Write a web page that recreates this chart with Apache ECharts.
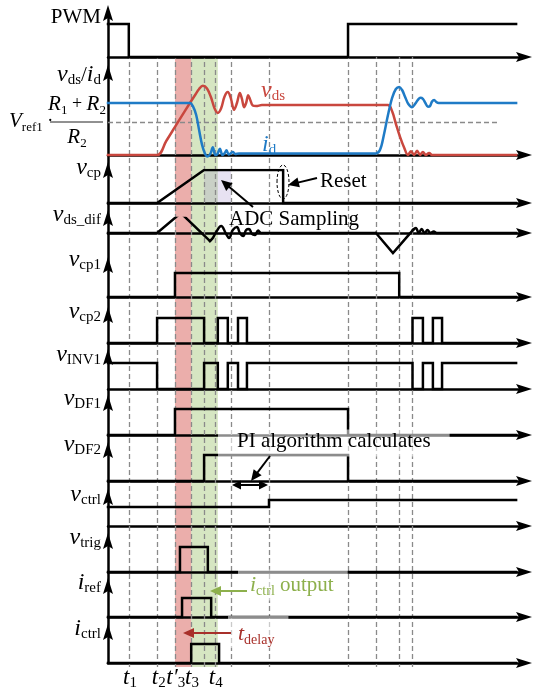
<!DOCTYPE html>
<html><head><meta charset="utf-8">
<script src="https://cdn.jsdelivr.net/npm/echarts@6/dist/echarts.min.js"></script>
<style>html,body{margin:0;padding:0;background:#fff}#c{width:536px;height:688px}</style>
</head><body><div id="c"></div>
<script>
// ---------------- data (time in arbitrary units 0..100) ----------------
const timeMarks = [5.0, 11.8, 16.1, 20.0, 23.1, 25.7, 29.6, 38.7, 57.7, 64.4, 70.0, 73.2];
const timeLabelText = ['{v|t}{s|1}', '{v|t}{s|2}', '{v|t\u2032}{s|3}', '{v|t}{s|3}', '{v|t}{s|4}'];
const timeLabelAt = [5.3, 12.2, 16.3, 20.2, 25.9];
const redBand = [16.1, 20.0];
const greenBand = [20.0, 26.4];
const purpleBand = [23.1, 29.6];
const vthreshold = 0.63;

const pwm = [[0,1],[5.0,1],[5.0,0],[57.7,0],[57.7,1],[98.1,1]];
const vds = [[0,0],[11.8,0],[14.0,0.27],[16.1,0.54],[18.5,0.85],[20.9,1.15],[21.9,1.27],[22.8,1.33],[23.8,1.28],[24.8,1.1],[25.6,0.9],[26.4,0.81],[27.2,0.9],[28.0,1.12],[28.8,1.21],[29.5,1.1],[30.3,0.87],[31.0,1.0],[31.7,1.19],[32.2,1.08],[32.7,0.92],[33.2,1.0],[33.7,1.15],[34.2,1.06],[34.8,0.95],[35.6,0.94],[37.0,0.96],[67.3,0.96],[68.3,0.84],[69.2,0.6],[70.2,0.35],[71.2,0.14],[72.1,0.0],[72.8,0.07],[73.6,0.0],[74.3,0.08],[75.0,0.0],[75.7,0.06],[76.4,0.0],[77.2,0.04],[77.9,0],[98.1,0]];
const id = [[0,1],[19.7,1],[20.4,0.94],[21.2,0.77],[21.9,0.48],[22.6,0.2],[23.3,0.03],[23.9,-0.03],[24.6,0.02],[25.2,0.15],[25.8,0.0],[26.3,0.02],[26.9,0.12],[27.5,0.0],[28.0,0.03],[28.5,0.09],[29.0,0.01],[29.5,0.03],[30.0,0.06],[30.6,0.02],[31.5,0.03],[64.4,0.03],[65.4,0.1],[66.3,0.38],[67.3,0.77],[68.3,1.1],[69.2,1.27],[70.0,1.31],[70.7,1.25],[71.4,1.12],[72.2,0.98],[73.1,0.92],[73.8,0.98],[74.5,1.06],[75.1,1.1],[75.7,1.08],[76.3,1.0],[76.9,0.93],[77.4,0.94],[77.9,1.03],[78.4,1.06],[78.9,1.02],[79.5,1.0],[98.1,1.0]];
const vcp = [[0,0],[11.8,0],[23.1,1],[42.1,1],[42.1,0],[98.1,0]];
const vdsDifA = [[0,0],[11.8,0],[17.5,1.0],[24.5,-0.4]];
const vdsDifB = [[24.5,-0.4],[25.2,-0.25],[26.0,0.05],[27.2,0.35],[28.4,-0.05],[29.1,-0.25],[30.0,0.15],[31.0,0.3],[31.7,0],[32.5,-0.15],[33.2,0.15],[33.9,0.2],[34.6,-0.05],[35.3,-0.1],[36.1,0.12],[36.8,0],[38.0,0],[64.4,0]];
const vdsDifC = [[64.4,0],[68.5,-1.0],[73.3,0.15]];
const vdsDifD = [[73.3,0.15],[74.0,0.25],[74.7,0.0],[75.4,0.2],[76.1,0],[76.8,0.15],[77.5,0],[78.3,0.07],[79.0,0],[80.0,0],[98.1,0]];
const vcp1 = [[0,0],[16.1,0],[16.1,1],[70.0,1],[70.0,0],[98.1,0]];
const vcp2 = [[0,0],[11.8,0],[11.8,1],[23.1,1],[23.1,0],[26.4,0],[26.4,1],[28.8,1],[28.8,0],[31.25,0],[31.25,1],[33.4,1],[33.4,0],[73.2,0],[73.2,1],[75.7,1],[75.7,0],[78.1,0],[78.1,1],[80.3,1],[80.3,0],[98.1,0]];
const vinv1 = [[0,1],[11.8,1],[11.8,0],[23.1,0],[23.1,1],[26.4,1],[26.4,0],[28.8,0],[28.8,1],[31.25,1],[31.25,0],[33.4,0],[33.4,1],[73.2,1],[73.2,0],[75.7,0],[75.7,1],[78.1,1],[78.1,0],[80.3,0],[80.3,1],[98.1,1]];
const vdf1 = [[0,0],[16.1,0],[16.1,1],[57.7,1],[57.7,0],[98.1,0]];
const vdf2 = [[0,0],[23.1,0],[23.1,1],[57.7,1],[57.7,0],[98.1,0]];
const vctrl = [[0,1],[38.7,1],[38.7,1.37],[98.1,1.37]];
const vtrig = [[0,0],[17.3,0],[17.3,1],[24.0,1],[24.0,0],[98.1,0]];
const iref = [[0,0],[17.8,0],[17.8,1],[24.8,1],[24.8,0],[98.1,0]];
const ictrl = [[0,0],[20.0,0],[20.0,1],[26.7,1],[26.7,0],[98.1,0]];

// ---------------- layout (pixels) ----------------
const rows = [
  {tip:5,   base:57,  hi:24,  ly:17,  label:'{n|PWM}'},
  {tip:65,  base:155, hi:103, ly:75,  label:'{v|v}{s|ds}{n|/}{v|i}{s|d}'},
  {tip:162, base:203, hi:170, ly:168, label:'{v|v}{s|cp}'},
  {tip:210, base:233, hi:213, ly:215, label:'{v|v}{s|ds_dif}'},
  {tip:257, base:297, hi:273, ly:260, label:'{v|v}{s|cp1}'},
  {tip:307, base:343, hi:318, ly:312, label:'{v|v}{s|cp2}'},
  {tip:349, base:389, hi:363, ly:355, label:'{v|v}{s|INV1}'},
  {tip:395, base:435, hi:409, ly:399, label:'{v|v}{s|DF1}'},
  {tip:442, base:481, hi:455, ly:445, label:'{v|v}{s|DF2}'},
  {tip:489, base:526, hi:507, ly:495, label:'{v|v}{s|ctrl}'},
  {tip:533, base:572, hi:547, ly:538, label:'{v|v}{s|trig}'},
  {tip:578, base:617, hi:598, ly:583, label:'{v|i}{s|ref}'},
  {tip:624, base:663, hi:644, ly:629, label:'{v|i}{s|ctrl}'}
];
const LEFT = 108, WIDTH = 416;
const ARROW_SYM = 'path://M5,0 L10,16 L5,13 L0,16 Z';
const ARROW_SIZE = [11, 16];
const RED = '#c9473e', BLUE = '#1f7bc6', GREEN = '#8db04c', DRED = '#a8302a';
const FF = '"Liberation Serif","Times New Roman",serif';

const grids = [], xAxes = [], yAxes = [], series = [];
const axisLineStyle = {color:'#000', width:2.5};
rows.forEach((r, i) => {
  const top = r.tip + 8;
  const bottomPx = i < rows.length - 1 ? rows[i+1].tip + 8 : r.base;
  const ppu = r.base - r.hi;
  grids.push({left:LEFT, width:WIDTH, top:top, height:bottomPx - top, containLabel:false, outerBoundsMode:'none'});
  xAxes.push({gridIndex:i, type:'value', min:0, max:100, z:3,
    axisLine:{show:true, onZero:true, symbol:['none',ARROW_SYM], symbolSize:ARROW_SIZE, lineStyle:axisLineStyle},
    axisTick:{show:false}, axisLabel:{show:false}, splitLine:{show:false}});
  yAxes.push({gridIndex:i, type:'value', min:(r.base - bottomPx)/ppu, max:(r.base - top)/ppu, z:3,
    axisLine:{show:true, onZero:false, symbol:['none',ARROW_SYM], symbolSize:ARROW_SIZE, lineStyle:axisLineStyle},
    axisTick:{show:false}, axisLabel:{show:false}, splitLine:{show:false}});
});
// overlay grid for dashed time marks and bands
const OV = rows.length;
grids.push({left:LEFT, width:WIDTH, top:57, height:610, containLabel:false, outerBoundsMode:'none'});
xAxes.push({gridIndex:OV, type:'value', min:0, max:100, show:false});
yAxes.push({gridIndex:OV, type:'value', min:0, max:1, show:false});

function wave(grid, data, color, smooth) {
  series.push({type:'line', xAxisIndex:grid, yAxisIndex:grid, data, z:5, silent:true,
    showSymbol:false, symbol:'none', smooth:smooth || false,
    lineStyle:{color:color || '#000', width:2.5, cap:'square', join:'miter'}});
}
series.push({type:'line', xAxisIndex:OV, yAxisIndex:OV, data:[[0,-5]], z:1, silent:true, symbol:'none',
  lineStyle:{opacity:0},
  markArea:{silent:true, data:[
    [{xAxis:redBand[0], itemStyle:{color:'rgba(222,120,115,0.6)'}}, {xAxis:redBand[1]}],
    [{xAxis:greenBand[0], itemStyle:{color:'rgba(165,200,120,0.45)'}}, {xAxis:greenBand[1]}]
  ]}});
series.push({type:'line', xAxisIndex:2, yAxisIndex:2, data:[[0,-5]], z:1, silent:true, symbol:'none',
  lineStyle:{opacity:0},
  markArea:{silent:true, data:[[{xAxis:purpleBand[0], yAxis:0, itemStyle:{color:'rgba(170,150,210,0.28)'}}, {xAxis:purpleBand[1], yAxis:1.15}]]}});
series.push({type:'line', xAxisIndex:OV, yAxisIndex:OV, data:[[0,-5]], z:2, silent:true, symbol:'none',
  lineStyle:{opacity:0},
  markLine:{silent:true, symbol:'none', label:{show:false},
    lineStyle:{color:'#8a8a8a', type:[5,3], width:1.3},
    data:timeMarks.map(t => ({xAxis:t}))}});
series.push({type:'line', xAxisIndex:1, yAxisIndex:1, data:[[0,-5]], z:2, silent:true, symbol:'none',
  lineStyle:{opacity:0},
  markLine:{silent:true, symbol:'none', label:{show:false},
    lineStyle:{color:'#8a8a8a', type:[5,3], width:1.3},
    data:[[{coord:[0,vthreshold]},{coord:[93.8,vthreshold]}]]}});

wave(0, pwm);
wave(1, vds, RED, 0.35);
wave(1, id, BLUE, 0.35);
wave(2, vcp);
wave(3, vdsDifA); wave(3, vdsDifB, '#000', 0.4); wave(3, vdsDifC); wave(3, vdsDifD, '#000', 0.4);
wave(4, vcp1); wave(5, vcp2); wave(6, vinv1); wave(7, vdf1); wave(8, vdf2);
wave(9, vctrl); wave(10, vtrig); wave(11, iref); wave(12, ictrl);

const chart = echarts.init(document.getElementById('c'));
chart.setOption({animation:false, backgroundColor:'#fff', grid:grids, xAxis:xAxes, yAxis:yAxes, series});

// ---------------- text & annotations ----------------
function rich(color, big, sub, nSize) {
  big = big || 24; sub = sub || 15; nSize = nSize || 21;
  return {
    v:{fontFamily:FF, fontStyle:'italic', fontSize:big, lineHeight:26, verticalAlign:'middle', fill:color},
    s:{fontFamily:FF, fontSize:sub, lineHeight:10, verticalAlign:'bottom', fill:color},
    n:{fontFamily:FF, fontSize:nSize, lineHeight:26, verticalAlign:'middle', fill:color}
  };
}
function txt(text, x, y, o) {
  o = o || {};
  const st = {text, x, y, align:o.align || 'left', verticalAlign:'middle',
    rich:o.rich || rich(o.color || '#000'), fill:o.color || '#000', fontFamily:FF, fontSize:21};
  if (o.bg) { st.backgroundColor = o.bg; st.padding = o.pad; }
  return {type:'text', z:100, style:st};
}
function arrow(x1, y1, x2, y2, color, len, half) {
  len = len || 11; half = half || 5;
  const dx = x2-x1, dy = y2-y1, L = Math.hypot(dx, dy), ux = dx/L, uy = dy/L;
  const bx = x2-ux*len, by = y2-uy*len;
  return [
    {type:'line', z:101, shape:{x1, y1, x2:bx+ux*2, y2:by+uy*2}, style:{stroke:color, lineWidth:2}},
    {type:'polygon', z:101, shape:{points:[[x2,y2],[bx-uy*half,by+ux*half],[bx+uy*half,by-ux*half]]}, style:{fill:color}}
  ];
}
const g = [];
rows.forEach(r => g.push(txt(r.label, 101, r.ly, {align:'right'})));
// threshold formula
const rf = rich('#000', 21, 13, 18);
g.push(txt('{v|V}{s|ref1}{n| \u00b7}', 9, 121, {rich:rf}));
g.push(txt('{v|R}{s|1}{n| + }{v|R}{s|2}', 77, 104, {align:'center', rich:rf}));
g.push(txt('{v|R}{s|2}', 77, 137, {align:'center', rich:rf}));
g.push({type:'line', z:100, shape:{x1:50, y1:122, x2:103, y2:122}, style:{stroke:'#222', lineWidth:1}});
// curve labels
g.push(txt('{v|v}{s|ds}', 261, 91, {color:RED}));
g.push(txt('{v|i}{s|d}', 262, 145, {color:BLUE}));
// Reset
g.push(txt('Reset', 320, 181));
g.push(...arrow(317, 178, 288, 185, '#000'));
g.push({type:'ellipse', z:100, shape:{cx:283, cy:182, rx:6, ry:17}, style:{fill:'none', stroke:'#000', lineWidth:1, lineDash:[3,2]}});
// ADC Sampling
g.push(txt('ADC Sampling', 229, 219));
g.push(...arrow(253, 207, 221, 180, '#000'));
// PI algorithm
g.push(txt('PI algorithm calculates', 218, 443, {bg:'rgba(255,255,255,0.55)', pad:[1,19,5,19]}));
g.push(...arrow(270, 456, 251, 481, '#000'));
g.push(...arrow(250, 485, 232, 485, '#000', 9, 4.5));
g.push(...arrow(250, 485, 268, 485, '#000', 9, 4.5));
// ictrl output
g.push(txt('{v|i}{s|ctrl}{n| output}', 238, 585, {rich:rich(GREEN, 22, 14, 21), bg:'rgba(255,255,255,0.55)', pad:[3,14,2,12]}));
g.push(...arrow(247, 591, 210, 591, GREEN));
// tdelay
g.push(txt('{v|t}{s|delay}', 228, 632, {rich:rich(DRED, 22, 14, 21), bg:'rgba(255,255,255,0.55)', pad:[5,14,1,10]}));
g.push(...arrow(231, 633, 183, 633, DRED));
// time labels
timeLabelText.forEach((s, i) => {
  const x = chart.convertToPixel({xAxisIndex:12}, timeLabelAt[i]);
  g.push(txt(s, x, 678, {align:'center', rich:rich('#000', 23, 15, 21)}));
});
chart.setOption({graphic:{elements:g}});
</script>
</body></html>
